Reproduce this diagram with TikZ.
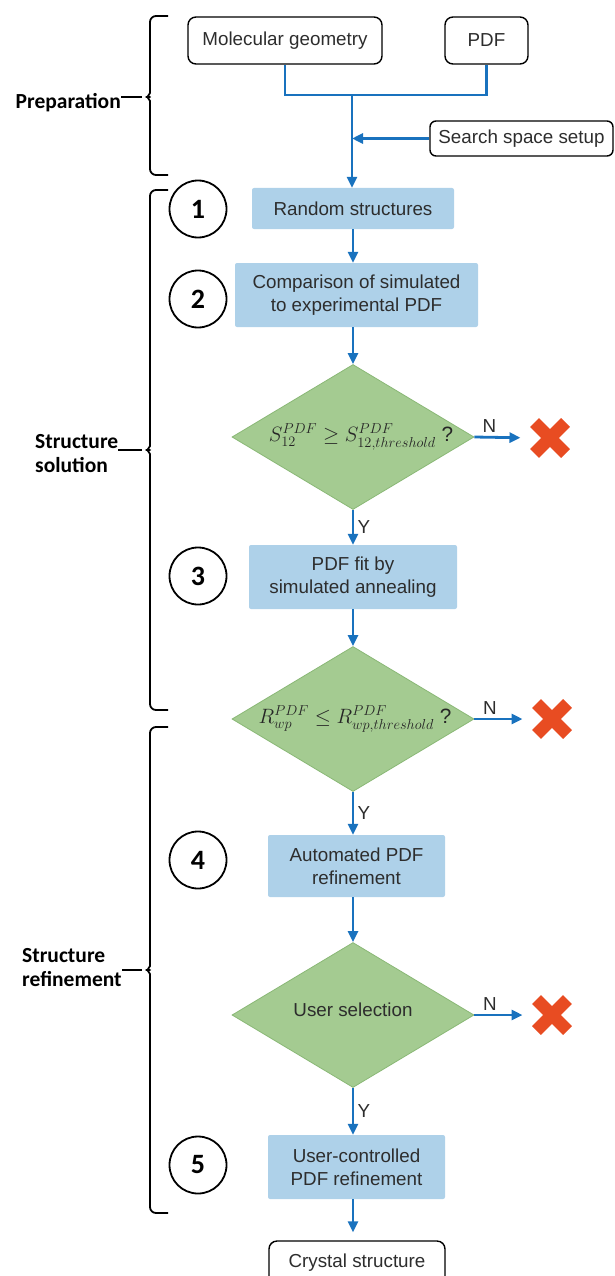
\documentclass[tikz,border=0pt]{standalone}
\usepackage{amsmath,amssymb}
\usepackage{fontspec}
\setmainfont{Liberation Sans}
\newfontfamily\labelfont{Carlito}
\usepackage{xcolor}
\usetikzlibrary{arrows.meta,positioning,shapes.geometric,shapes.misc,calc}
\definecolor{flowblue}{RGB}{25,114,190}
\definecolor{stepblue}{RGB}{174,209,233}
\definecolor{testgreen}{RGB}{164,203,145}
\definecolor{testedge}{RGB}{138,184,118}
\definecolor{rejectred}{RGB}{232,76,34}
\definecolor{textgray}{RGB}{45,45,45}

\begin{document}
\begin{tikzpicture}[x=1pt, y=-1pt,
  every node/.style={font=\fontsize{18.8}{23}\selectfont, text=textgray},
  inbox/.style={draw=black, line width=1.4pt, rounded corners=8pt, fill=white, inner sep=0pt},
  stepbox/.style={fill=stepblue, rounded corners=2pt, align=center, inner sep=0pt},
  testbox/.style={diamond, fill=testgreen, draw=testedge, line width=0.8pt,
        minimum width=242pt, minimum height=145pt, inner sep=0pt},
  stepnum/.style={circle, draw=black, line width=1.8pt, minimum size=57pt, inner sep=0pt,
        text=black, font=\labelfont\bfseries\fontsize{28}{30}\selectfont},
  reject/.style={cross out, draw=rejectred, line width=12.5pt, line cap=butt,
        minimum size=31pt, inner sep=0pt, outer sep=0pt},
  seclabel/.style={font=\labelfont\bfseries\fontsize{21.5}{24}\selectfont, text=black,
        align=left, inner sep=0pt},
  groupbrace/.style={draw=black, line width=1.8pt, rounded corners=6pt},
  pipe/.style={draw=flowblue, line width=2.8pt},
  flow/.style={pipe, -{Triangle[length=11pt,width=10pt]}}]
  \useasboundingbox (0,0) rectangle (615,1276);

  % inputs
  \node[inbox, minimum width=194pt, minimum height=47pt] (geom) at (285,40.5) {Molecular geometry};
  \node[inbox, minimum width=83pt, minimum height=47pt] (pdf) at (486.5,40.5) {PDF};
  \node[inbox, minimum width=183pt, minimum height=35pt, rounded corners=6pt] (setup) at (521.5,138.5) {Search space setup};
  \coordinate (join) at (352,95);

  % main flow
  \node[stepbox, minimum width=202pt, minimum height=41pt] (rand) at (353,208.5) {Random structures};
  \node[stepbox, minimum width=243pt, minimum height=64pt] (comp) at (356.5,295) {Comparison of simulated\\to experimental PDF};
  \node[testbox] (chk1) at (353,437) {};
  \node[font=\fontsize{20.74}{24}\selectfont, text=black!85] (chk1txt) at (361,437)
        {$S^{PDF}_{12} \geq S^{PDF}_{12,threshold}$ ?};
  \node[stepbox, minimum width=208pt, minimum height=64pt] (fit) at (353,577) {PDF fit by\\simulated annealing};
  \node[testbox] (chk2) at (353,719) {};
  \node[font=\fontsize{20.74}{24}\selectfont, text=black!85] (chk2txt) at (355,719)
        {$R^{PDF}_{wp} \leq R^{PDF}_{wp,threshold}$ ?};
  \node[stepbox, minimum width=177pt, minimum height=62pt] (auto) at (356.5,866) {Automated PDF\\refinement};
  \node[testbox] (chk3) at (353,1015) {};
  \node (chk3txt) at (353,1010) {User selection};
  \node[stepbox, minimum width=177pt, minimum height=64pt] (user) at (356.5,1167) {User-controlled\\PDF refinement};
  \node[inbox, minimum width=176pt, minimum height=44pt] (crystal) at (357,1263) {Crystal structure};

  % rejections
  \node[reject] (no1) at (550,438) {};
  \node[reject] (no2) at (552,719) {};
  \node[reject] (no3) at (552,1015) {};

  % step numbers
  \foreach \n/\y in {1/209, 2/299, 3/576, 4/860, 5/1165}
    \node[stepnum] (num\n) at (198,\y) {\n};

  % connectors
  \draw[pipe] (geom.south) |- (join) -| (pdf.south);
  \draw[flow] (join) -- (join |- rand.north);
  \draw[flow] (setup.west) -- (setup.west -| join);
  \draw[flow] (rand.south) -- (rand.south |- comp.north);
  \draw[flow] (comp.south -| chk1) -- (chk1.north);
  \draw[flow] (chk1.south) -- (chk1.south |- fit.north) node[midway, right] {Y};
  \draw[flow] (fit.south -| chk2) -- (chk2.north);
  \draw[flow] (chk2.south) -- (chk2.south |- auto.north) node[midway, right] {Y};
  \draw[flow] (auto.south -| chk3) -- (chk3.north);
  \draw[flow] (chk3.south) -- (chk3.south |- user.north) node[midway, right] {Y};
  \draw[flow, shorten >=8pt] (user.south -| chk3) -- (chk3 |- crystal.north);
  \foreach \k in {1,2,3}
    \draw[flow, shorten >=14pt] (chk\k.east) -- (no\k.west) node[pos=0.25, above] {N};

  % braces and section labels
  \foreach \top/\tip/\bot/\nm in {16/97/175/prep, 190/450/710/sol, 727/970/1213/ref}{
    \coordinate (\nm-tip) at (142,\tip);
    \draw[groupbrace] (168,\top) -- (150,\top) -- (150,\tip-10)
      .. controls (150,\tip-2) and (146,\tip) .. (\nm-tip)
      .. controls (146,\tip) and (150,\tip+2) .. (150,\tip+10) -- (150,\bot) -- (168,\bot);
  }
  \node[seclabel, anchor=east] (prep-lab) at (121,103) {Preparation};
  \node[seclabel, anchor=west] (sol-lab) at (35,454) {Structure\\solution};
  \node[seclabel, anchor=west] (ref-lab) at (22,968) {Structure\\refinement};
  \draw[groupbrace] (prep-tip) -- (prep-tip -| prep-lab.east);
  \draw[groupbrace] (sol-tip) -- (sol-tip -| sol-lab.east);
  \draw[groupbrace] (ref-tip) -- (ref-tip -| ref-lab.east);
\end{tikzpicture}
\end{document}
